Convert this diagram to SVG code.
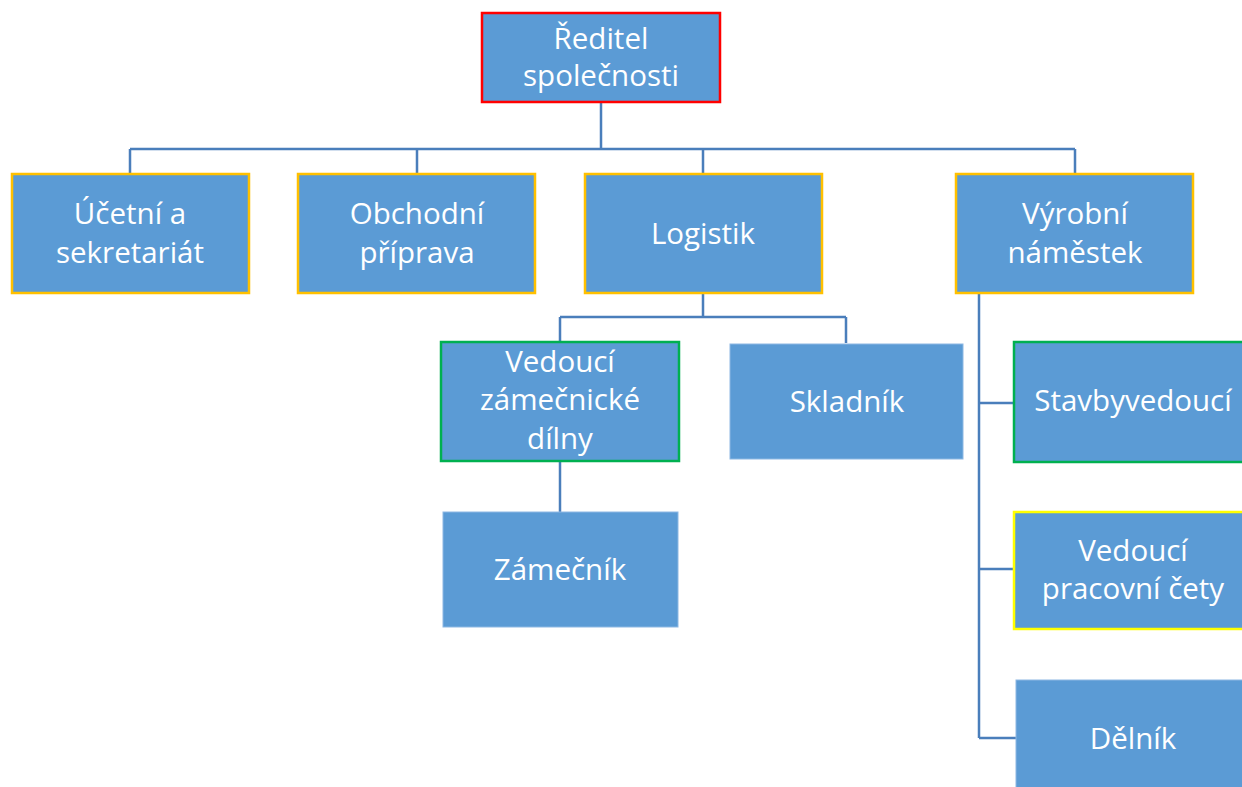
<svg xmlns="http://www.w3.org/2000/svg" width="1242" height="787" viewBox="0 0 1242 787">
<style>
.box{fill:#5B9BD5}
.red{stroke:#FF0000;stroke-width:2.5}
.orange{stroke:#FFC000;stroke-width:2.5}
.green{stroke:#00B050;stroke-width:2.5}
.yellow{stroke:#FFFF00;stroke-width:2.5}
.plain{stroke:#8DB8E3;stroke-width:1}
.t{font-family:"Open Sans","Noto Sans",sans-serif;font-size:29.5px;fill:#FFFFFF;text-anchor:middle}
.c{fill:none;stroke:#4A7EBB;stroke-width:2.5}
</style>
<rect width="1242" height="787" fill="#FFFFFF"/>
<g id="connectors">
<path class="c" d="M601 103V149M130 149H1075M130 149V174M417 149V174M703 149V174M1075 149V174"/>
<path class="c" d="M703 293V317M560 317H846M560 317V342M846 317V343"/>
<path class="c" d="M560 461V512"/>
<path class="c" d="M979 293V738M979 403H1014M979 569H1014M979 738H1016"/>
</g>
<g id="reditel"><rect class="box red" x="482" y="13" width="238" height="89"/><text class="t" x="601" y="49">Ředitel</text><text class="t" x="601" y="86">společnosti</text></g>
<g id="ucetni"><rect class="box orange" x="12" y="174" width="237" height="119"/><text class="t" x="130" y="224">Účetní a</text><text class="t" x="130" y="263">sekretariát</text></g>
<g id="obchodni"><rect class="box orange" x="298" y="174" width="237" height="119"/><text class="t" x="417" y="224">Obchodní</text><text class="t" x="417" y="263">příprava</text></g>
<g id="logistik"><rect class="box orange" x="585" y="174" width="237" height="119"/><text class="t" x="703" y="244">Logistik</text></g>
<g id="vyrobni"><rect class="box orange" x="956" y="174" width="237" height="119"/><text class="t" x="1075" y="224">Výrobní</text><text class="t" x="1075" y="263">náměstek</text></g>
<g id="vedouci-zamecnicke"><rect class="box green" x="441" y="342" width="238" height="119"/><text class="t" x="560" y="372">Vedoucí</text><text class="t" x="560" y="410">zámečnické</text><text class="t" x="560" y="449">dílny</text></g>
<g id="skladnik"><rect class="box plain" x="730" y="344" width="233" height="115"/><text class="t" x="847" y="412">Skladník</text></g>
<g id="zamecnik"><rect class="box plain" x="443" y="512" width="235" height="115"/><text class="t" x="560" y="580">Zámečník</text></g>
<g id="stavbyvedouci"><rect class="box green" x="1014" y="342" width="238" height="120"/><text class="t" x="1133" y="411">Stavbyvedoucí</text></g>
<g id="vedouci-cety"><rect class="box yellow" x="1014" y="512" width="238" height="117"/><text class="t" x="1133" y="561">Vedoucí</text><text class="t" x="1133" y="599">pracovní čety</text></g>
<g id="delnik"><rect class="box plain" x="1016" y="680" width="236" height="120"/><text class="t" x="1133" y="749">Dělník</text></g>
</svg>
